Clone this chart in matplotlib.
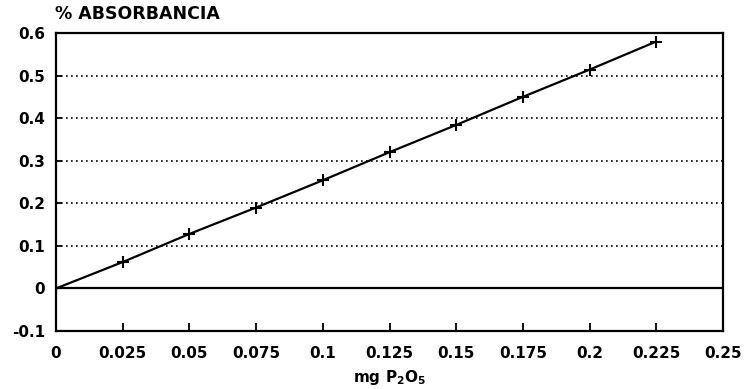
import matplotlib
matplotlib.use("Agg")
import matplotlib.pyplot as plt

# Calibration curve: absorbance vs mg of P2O5
mg_p2o5 = [0, 0.025, 0.05, 0.075, 0.1, 0.125, 0.15, 0.175, 0.2, 0.225]
absorbance = [0, 0.062, 0.128, 0.190, 0.254, 0.320, 0.384, 0.450, 0.514, 0.580]

x_ticks = [0, 0.025, 0.05, 0.075, 0.1, 0.125, 0.15, 0.175, 0.2, 0.225, 0.25]
x_tick_labels = ["0", "0.025", "0.05", "0.075", "0.1", "0.125", "0.15", "0.175", "0.2", "0.225", "0.25"]
y_ticks = [-0.1, 0, 0.1, 0.2, 0.3, 0.4, 0.5, 0.6]
y_tick_labels = ["-0.1", "0", "0.1", "0.2", "0.3", "0.4", "0.5", "0.6"]
grid_levels = [0.1, 0.2, 0.3, 0.4, 0.5]

plt.rcParams["font.family"] = ["DejaVu Sans"]
plt.rcParams["font.weight"] = "bold"
plt.rcParams["mathtext.fontset"] = "dejavusans"

fig = plt.figure(figsize=(7.45, 3.89), dpi=100)
ax = fig.add_axes([56 / 745, 1 - 331 / 389, (723 - 56) / 745, (331 - 33) / 389])

ax.set_xlim(0, 0.25)
ax.set_ylim(-0.1, 0.6)

for lvl in grid_levels:
    ax.axhline(lvl, color="black", linestyle=(0, (1, 2.0)), linewidth=1.2, zorder=1)
ax.axhline(0, color="black", linewidth=1.6, zorder=1)

ax.plot(mg_p2o5, absorbance, color="black", linewidth=1.6, marker="+",
        markersize=9, markeredgewidth=1.5, zorder=3)

ax.set_xticks(x_ticks)
ax.set_xticklabels(x_tick_labels, fontsize=11, fontweight="bold")
ax.set_yticks(y_ticks)
ax.set_yticklabels(y_tick_labels, fontsize=11, fontweight="bold")
ax.tick_params(axis="x", direction="in", length=6, width=1.3, pad=11)
ax.tick_params(axis="y", direction="in", length=4, width=1.3, pad=8)

for spine in ax.spines.values():
    spine.set_linewidth(1.6)

ax.set_xlabel("mg P$_\\mathbf{2}$O$_\\mathbf{5}$", fontsize=11, fontweight="bold", labelpad=5)
fig.text(55 / 745, 1 - 14 / 389, "% ABSORBANCIA", fontsize=12.5, fontweight="bold",
         ha="left", va="center")

fig.savefig("out.png", dpi=100)
